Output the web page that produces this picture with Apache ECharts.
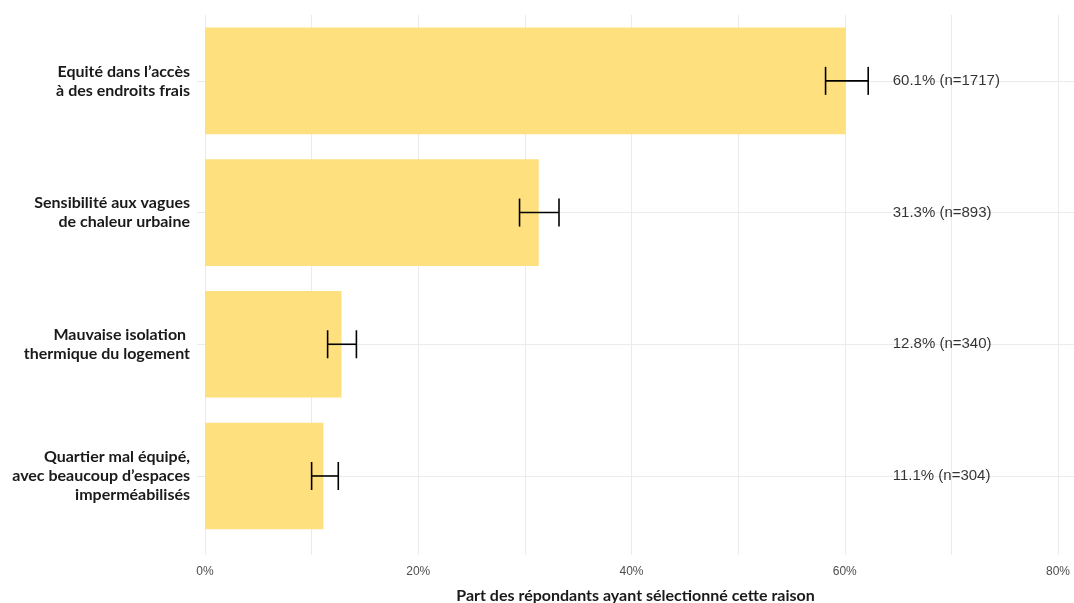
<!DOCTYPE html>
<html>
<head>
<meta charset="utf-8">
<script src="https://cdn.jsdelivr.net/npm/echarts@6/dist/echarts.min.js"></script>
<style>
  html, body { margin: 0; padding: 0; background: #fff; }
  #chart { width: 1074px; height: 603px; }
</style>
</head>
<body>
<div id="chart"></div>
<script>
// Reasons, listed top to bottom
const categories = [
  "Equité dans l’accès\nà des endroits frais",
  "Sensibilité aux vagues\nde chaleur urbaine",
  "Mauvaise isolation \nthermique du logement",
  "Quartier mal équipé,\navec beaucoup d’espaces\nimperméabilisés"
];
// Share of respondents (%) and counts
const shares = [60.1, 31.3, 12.8, 11.1];
const counts = [1717, 893, 340, 304];
// Confidence interval bounds (%)
const ciLow = [58.2, 29.5, 11.5, 10.0];
const ciHigh = [62.2, 33.2, 14.2, 12.5];
// x axis tick labels and grid lines
const xLabelTicks = [0, 20, 40, 60, 80];
const xGridTicks = [0, 10, 20, 30, 40, 50, 60, 70, 80];

// position of the text column, in axis units
const labelColumn = 64.5;

// rows are placed at 1..n on a value axis (top to bottom)
const rowPos = categories.map((c, i) => i + 1);

const chart = echarts.init(document.getElementById('chart'), null, { renderer: 'canvas' });

const option = {
  animation: false,
  backgroundColor: '#ffffff',
  grid: { left: 197, right: 0, top: 15, bottom: 48, containLabel: false, outerBoundsMode: 'none' },
  xAxis: {
    type: 'value',
    min: -0.75,
    max: 81.5,
    name: 'Part des répondants ayant sélectionné cette raison',
    nameLocation: 'middle',
    nameGap: 33,
    nameTextStyle: { fontFamily: 'Lato', fontWeight: 'bold', fontSize: 16, color: '#1a1a1a' },
    axisLine: { show: false },
    axisTick: { show: false, customValues: xGridTicks },
    axisLabel: {
      customValues: xLabelTicks,
      formatter: v => v + '%',
      color: '#4d4d4d',
      fontFamily: 'Liberation Sans',
      fontSize: 12,
      margin: 11
    },
    splitLine: { show: true, lineStyle: { color: '#ebebeb', width: 1 } }
  },
  yAxis: {
    type: 'value',
    inverse: true,
    min: 0.5,
    max: 4.6,
    axisLine: { show: false },
    axisTick: { show: false, customValues: rowPos },
    axisLabel: {
      customValues: rowPos,
      formatter: v => categories[Math.round(v) - 1] || '',
      fontFamily: 'Lato',
      fontWeight: 'bold',
      fontSize: 16,
      lineHeight: 19,
      color: '#1a1a1a',
      align: 'right',
      margin: 7
    },
    splitLine: { show: true, lineStyle: { color: '#ebebeb', width: 1 } }
  },
  series: [
    {
      // horizontal bars: from 0 to the share, 0.81 of a row tall
      type: 'custom',
      z: 2,
      data: shares.map((v, i) => [v, rowPos[i]]),
      encode: { x: 0, y: 1 },
      renderItem: function (params, api) {
        const row = api.value(1);
        const start = api.coord([0, row]);
        const end = api.coord([api.value(0), row]);
        const h = api.size([0, 1])[1] * 0.81;
        return {
          type: 'rect',
          shape: { x: start[0], y: start[1] - h / 2, width: end[0] - start[0], height: h },
          style: { fill: '#ffe07f' }
        };
      }
    },
    {
      // error bars
      type: 'custom',
      z: 3,
      data: shares.map((v, i) => [rowPos[i], ciLow[i], ciHigh[i]]),
      encode: { x: [1, 2], y: 0 },
      renderItem: function (params, api) {
        const row = api.value(0);
        const p1 = api.coord([api.value(1), row]);
        const p2 = api.coord([api.value(2), row]);
        const half = 14;
        const style = { stroke: '#000', lineWidth: 1.6 };
        return {
          type: 'group',
          children: [
            { type: 'line', shape: { x1: p1[0], y1: p1[1], x2: p2[0], y2: p2[1] }, style },
            { type: 'line', shape: { x1: p1[0], y1: p1[1] - half, x2: p1[0], y2: p1[1] + half }, style },
            { type: 'line', shape: { x1: p2[0], y1: p2[1] - half, x2: p2[0], y2: p2[1] + half }, style }
          ]
        };
      }
    },
    {
      // value text column
      type: 'scatter',
      z: 4,
      symbolSize: 0,
      data: shares.map((v, i) => ({ value: [labelColumn, rowPos[i]], share: v, n: counts[i] })),
      label: {
        show: true,
        position: 'right',
        distance: 0,
        fontFamily: 'Liberation Sans',
        fontSize: 15,
        color: '#000',
        formatter: p => p.data.share.toFixed(1) + '% (n=' + p.data.n + ')'
      },
      silent: true
    }
  ]
};

chart.setOption(option);
</script>
</body>
</html>
